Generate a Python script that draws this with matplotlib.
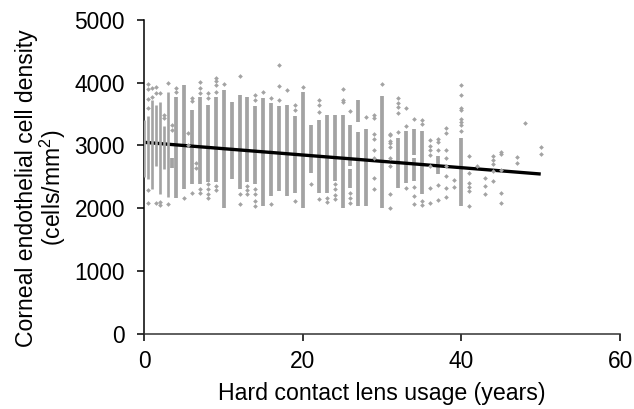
import matplotlib
matplotlib.use('Agg')
import matplotlib.pyplot as plt

plt.rcParams['font.family'] = ['Liberation Sans', 'DejaVu Sans']
plt.rcParams['mathtext.default'] = 'regular'

# packed stretches of each usage-year column
seg_x = [0, 0.5, 1, 1.5, 2, 2.5, 3, 3.5, 4, 5, 6, 7, 8, 9, 10, 11, 12, 13, 14, 15,
         16, 17, 18, 19, 20, 21, 22, 23, 24, 25, 26, 26, 27, 27, 28, 30,
         32, 33, 34, 34, 35, 37, 40]
seg_low = [2500, 2460, 2310, 2670, 2220, 2630, 2185, 2645, 2170, 2300, 2380, 2380, 2410, 2410, 2010, 2470, 2300, 2410, 2380, 2035,
           2195, 2275, 2195, 2250, 2010, 2565, 2249, 2250, 2435, 2010, 2670, 2330, 3370, 2040, 2040, 2010,
           2325, 2405, 2855, 2435, 2220, 2540, 2035]
seg_high = [3400, 3465, 3730, 3650, 3690, 3305, 3860, 2800, 3780, 3970, 3570, 3780, 3650, 3780, 3890, 3700, 3810, 3780, 3625, 3755,
            3675, 3625, 3650, 3465, 3860, 3330, 3413, 3490, 3490, 3490, 3330, 2620, 3730, 3210, 3265, 3785,
            3120, 3230, 3265, 2805, 3230, 2830, 3120]

# loose points around the columns
pt_x = [0.5]*6 + [1]*2 + [1.5]*3 + [2]*3 + [2.5]*2 + [3]*2 + [3.5]*2 + [4]*2 + [5] + [5.5]*2 + [6]*3 + [6.5]*2 \
    + [7]*5 + [8]*6 + [9]*6 + [10] + [12]*3 + [13]*3 + [14]*6 + [15] + [16]*2 + [17]*3 + [18] + [19]*3 + [20] + [21] \
    + [22]*4 + [23]*2 + [24]*4 + [25]*3 + [26]*4 + [28] + [29]*8 + [30] \
    + [31]*9 + [32]*5 + [33]*3 + [34]*4 + [35]*4 + [36]*7 + [37]*5 + [38]*8 + [39]*2 \
    + [40]*8 + [41]*6 + [42] + [43]*3 + [44]*5 + [45]*5 + [47]*2 + [48] + [50]*2
pt_y = [3980, 3900, 3745, 3600, 2290, 2080, 3910, 3765, 3940, 3835, 2080, 3835, 2100, 2050, 3490, 3440, 4000, 2075,
        3330, 3250, 3915, 3845, 2170, 3200, 3005, 3755, 3705, 2250, 2725, 2635,
        4005, 3915, 3835, 2310, 2240, 3835, 3755, 2380, 2300, 2220, 2155, 4075, 4020, 3970, 3860, 2355, 2290, 3985,
        4100, 2220, 2075, 2355, 2290, 2220, 3810, 3730, 2300, 2220, 2120, 2030, 3845, 3755, 2065,
        4285, 3950, 3730, 3880, 3650, 3570, 2115, 3940, 2380,
        3720, 3650, 3530, 2143, 2170, 2100, 2380, 2300, 2210, 2145, 3905, 3730, 3695, 3555, 2240, 2170, 2090, 3450,
        3480, 3440, 3185, 3105, 2935, 2805, 2485, 2310, 3985,
        3185, 3160, 3070, 3045, 2975, 2805, 2680, 2230, 2010, 3760, 3680, 3615, 3510, 3215, 3600, 3305, 2315,
        3415, 2340, 2195, 2060, 3400, 3335, 2115, 2050, 3085, 2990, 2920, 2845, 2670, 2315, 2090,
        3110, 3060, 2370, 2130, 2920, 3280, 3200, 2925, 2795, 2670, 2510, 2315, 2175, 2445, 2345,
        3970, 3805, 3600, 3560, 3415, 3375, 3325, 3230, 2840, 2565, 2405, 2345, 2280, 2035, 2670,
        2475, 2355, 2220, 2830, 2765, 2700, 2590, 2435, 2900, 2870, 2610, 2235, 2090,
        2820, 2725, 3355, 2980, 2860]

fit_x = [0, 50]
fit_y = [3050, 2545]

grey = '#a3a3a3'

fig = plt.figure(figsize=(6.34, 4.09), dpi=100)
ax = fig.add_axes([144.4/634, 1 - 333.7/409, (620 - 144.4)/634, (333.7 - 20)/409])

ax.plot(fit_x, fit_y, color='black', lw=2.4, solid_capstyle='butt', zorder=3)

# first columns are half a year apart and sit over the line, so keep them thin
for x, lo, hi in zip(seg_x, seg_low, seg_high):
    if x < 3.5:
        ax.vlines(x, lo, hi, color=grey, lw=1.9, zorder=4)
    else:
        ax.vlines(x, lo, hi, color=grey, lw=2.7, zorder=2)
ax.plot(pt_x, pt_y, 'D', color=grey, ms=2.4, mew=0, zorder=4, clip_on=False)

ax.set_xlim(0, 60)
ax.set_ylim(0, 5000)
ax.set_xticks([0, 20, 40, 60])
ax.set_yticks([0, 1000, 2000, 3000, 4000, 5000])
ax.spines['top'].set_visible(False)
ax.spines['right'].set_visible(False)
ax.spines['left'].set_linewidth(1.1)
ax.spines['bottom'].set_linewidth(1.1)
ax.spines['bottom'].set_color('#333333')
ax.tick_params(length=5, width=1.1, labelsize=16.4)
ax.tick_params(axis='x', pad=7)
ax.tick_params(axis='y', pad=9)

ax.set_xlabel('Hard contact lens usage (years)', fontsize=16.7, labelpad=6)
fig.text(27/634, 1 - 188/409, 'Corneal endothelial cell density', rotation=90, fontsize=16.6, ha='center', va='center')
fig.text(53/634, 1 - 187.5/409, '(cells/mm$^{2}$)', rotation=90, fontsize=16.6, ha='center', va='center')

fig.savefig('out.png', dpi=100)
